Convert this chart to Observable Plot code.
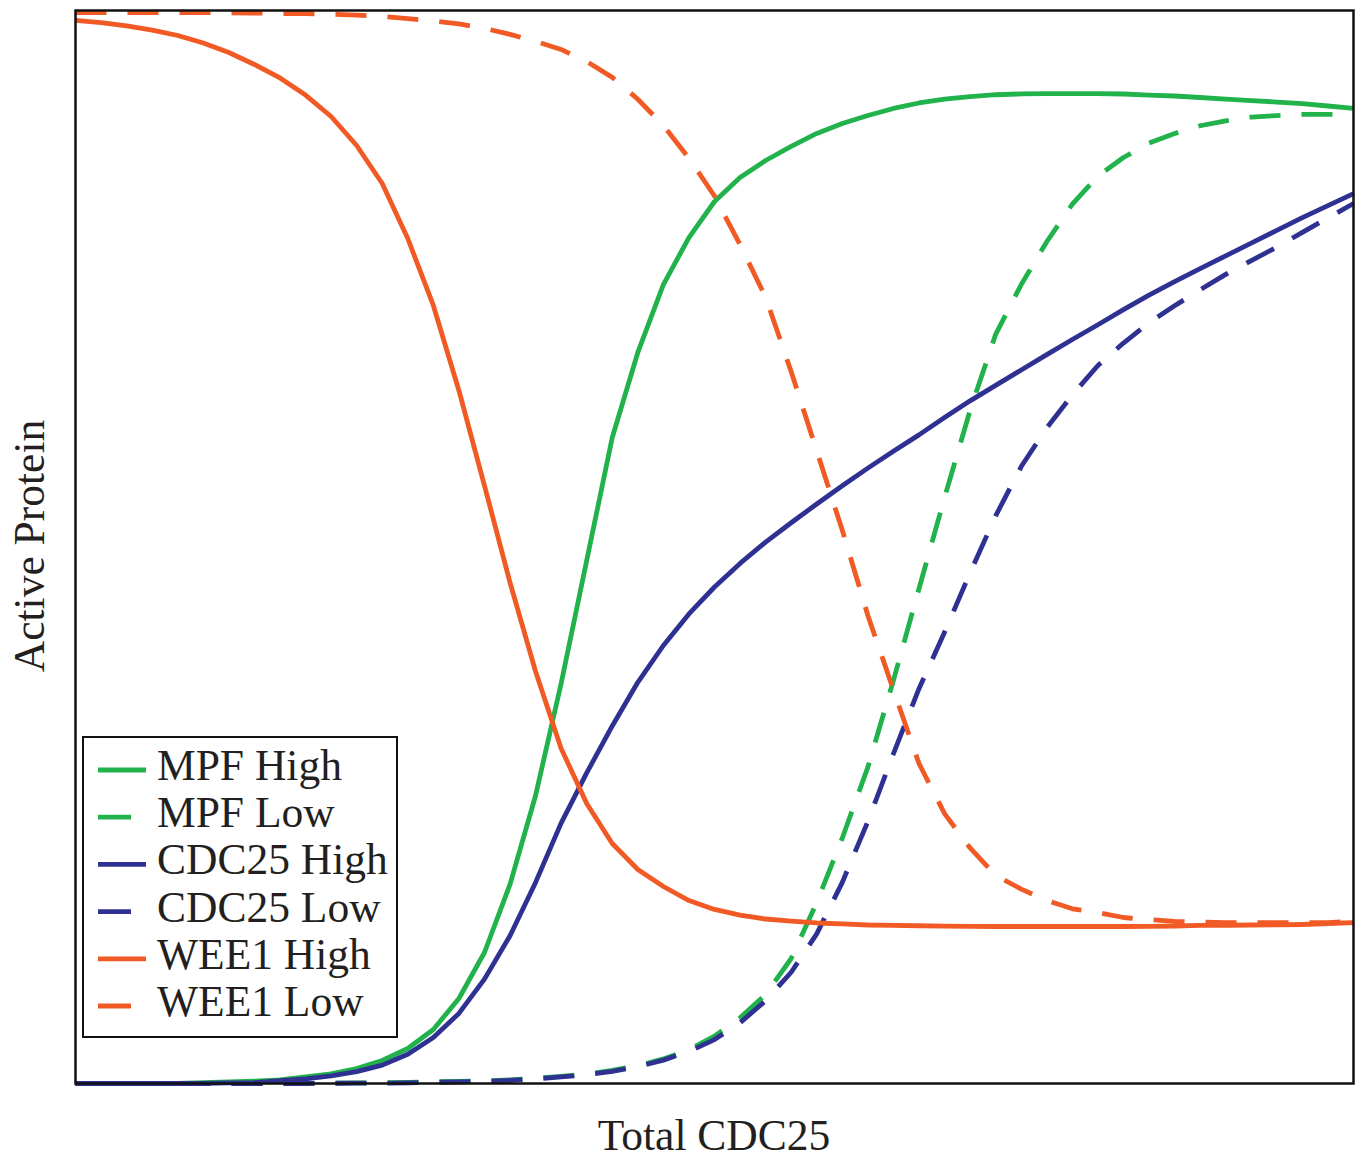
<!DOCTYPE html>
<html>
<head>
<meta charset="utf-8">
<script src="https://cdn.jsdelivr.net/npm/d3@7"></script>
<script src="https://cdn.jsdelivr.net/npm/@observablehq/plot@0.6"></script>
<style>
  html, body { margin: 0; padding: 0; background: #ffffff; }
  #chart { position: relative; width: 1360px; height: 1158px; }
</style>
</head>
<body>
<div id="chart"></div>
<script>
// x positions (Total CDC25, arbitrary units 0–100)
const xs = [0,2,4,6,8,10,12,14,16,18,20,22,24,26,28,30,32,34,36,38,40,42,44,46,48,50,
            52,54,56,58,60,62,64,66,68,70,72,74,76,78,80,82,84,86,88,90,92,94,96,98,100];

// Active protein (0–100) for each series
const mpfHigh = [0,0,0,0,0.02,0.09,0.14,0.23,0.33,0.61,0.89,1.40,2.14,3.26,5.03,7.92,12.21,18.55,26.84,37.28,
                 48.74,60.21,68.13,74.46,78.84,82.20,84.44,86.02,87.33,88.54,89.47,90.21,90.87,91.38,91.75,91.98,
                 92.15,92.23,92.26,92.26,92.26,92.22,92.12,92.03,91.89,91.75,91.61,91.47,91.33,91.10,90.87];
const mpfLow = [0,0,0,0,0,0,0,0,0,0,0.03,0.06,0.07,0.10,0.16,0.20,0.25,0.34,0.48,0.66,
                0.89,1.22,1.65,2.29,3.15,4.41,6.12,8.29,11.65,16.87,22.88,29.48,37.57,46.11,54.61,62.74,
                69.82,74.46,78.45,81.95,84.57,86.30,87.64,88.54,89.26,89.71,90.07,90.21,90.31,90.31,90.31];
const cdcHigh = [0,0,0,0,0,0.02,0.05,0.09,0.26,0.43,0.70,1.11,1.71,2.73,4.28,6.53,9.73,13.77,18.74,24.27,
                 28.95,33.32,37.39,40.82,43.76,46.27,48.47,50.46,52.26,54.01,55.71,57.35,58.92,60.45,62.06,63.62,
                 65.06,66.50,67.93,69.34,70.71,72.12,73.48,74.73,75.94,77.14,78.32,79.51,80.70,81.82,82.94];
const cdcLow = [0,0,0,0,0,0,0,0,0,0,0.02,0.03,0.04,0.06,0.10,0.16,0.20,0.29,0.43,0.61,
                0.82,1.13,1.56,2.18,2.99,4.09,5.66,7.71,10.37,13.95,18.75,24.42,30.73,36.79,42.05,47.60,
                52.90,57.50,61.10,64.17,66.92,69.01,70.90,72.48,73.98,75.41,76.69,77.95,79.32,80.67,82.01];
const wee1High = [99.07,98.88,98.56,98.18,97.67,96.97,96.09,94.97,93.71,92.12,90.12,87.42,83.88,78.75,72.51,64.59,
                  55.73,46.69,38.40,31.22,26.10,22.37,19.94,18.36,17.05,16.22,15.70,15.33,15.14,14.96,14.87,14.77,
                  14.73,14.70,14.67,14.65,14.63,14.63,14.63,14.63,14.63,14.63,14.65,14.68,14.73,14.75,14.77,14.78,
                  14.82,14.91,15.00];
const wee1Low = [99.81,99.81,99.81,99.81,99.81,99.81,99.78,99.76,99.72,99.72,99.66,99.57,99.44,99.25,99.02,98.75,
                 98.34,97.78,97.12,96.37,95.24,93.77,91.73,89.28,86.24,82.71,78.17,73.28,66.34,58.95,51.57,43.62,
                 36.68,29.82,25.15,21.95,19.39,18.12,17.06,16.28,15.94,15.47,15.27,15.10,15.04,15.00,15.00,15.00,
                 15.00,15.00,15.10];

// Series names, colours, dash styles (legend order = draw order)
const seriesNames = ["MPF High","MPF Low","CDC25 High","CDC25 Low","WEE1 High","WEE1 Low"];
const seriesValues = [mpfHigh, mpfLow, cdcHigh, cdcLow, wee1High, wee1Low];
const seriesColors = ["#22b24c","#22b24c","#2e3192","#2e3192","#f15a24","#f15a24"];
const seriesDashed = [false,true,false,true,false,true];

const xLabel = "Total CDC25";
const yLabel = "Active Protein";

const DASH = "31,21";
const LW = 4.8;
const FONT = "'Liberation Serif', 'Times New Roman', serif";
const TEXT = "#231f20";

const lineMarks = seriesValues.map((vals, k) =>
  Plot.line(xs, {
    x: d => d,
    y: (d, i) => vals[i],
    stroke: seriesColors[k],
    strokeWidth: LW,
    strokeDasharray: seriesDashed[k] ? DASH : null,
    strokeLinejoin: "round",
    strokeLinecap: "butt"
  })
);

const chart = Plot.plot({
  width: 1360,
  height: 1158,
  marginLeft: 75,
  marginRight: 7,
  marginTop: 10,
  marginBottom: 75,
  style: { background: "#ffffff", overflow: "visible" },
  x: { domain: [0, 100], axis: null },
  y: { domain: [0, 100], axis: null },
  marks: [
    ...lineMarks,
    Plot.frame({ stroke: "#111", strokeWidth: 2.5 })
  ]
});

document.getElementById("chart").appendChild(chart);

// Axis labels and legend, laid out on the Plot SVG
const svg = d3.select(chart);

svg.append("text")
  .attr("x", 714).attr("y", 1150)
  .attr("text-anchor", "middle")
  .attr("font-family", FONT).attr("font-size", 43.5).attr("fill", TEXT)
  .text(xLabel);

svg.append("text")
  .attr("transform", "translate(44,546) rotate(-90)")
  .attr("text-anchor", "middle")
  .attr("font-family", FONT).attr("font-size", 43.5).attr("fill", TEXT)
  .text(yLabel);

const lg = svg.append("g");
lg.append("rect")
  .attr("x", 83).attr("y", 737).attr("width", 314).attr("height", 300)
  .attr("fill", "#ffffff").attr("stroke", "#111").attr("stroke-width", 2);

seriesNames.forEach((name, k) => {
  const cy = 770 + k * 47.2;
  lg.append("line")
    .attr("x1", 98).attr("x2", seriesDashed[k] ? 131 : 146)
    .attr("y1", cy).attr("y2", cy)
    .attr("stroke", seriesColors[k]).attr("stroke-width", LW);
  lg.append("text")
    .attr("x", 157).attr("y", cy + 10)
    .attr("text-anchor", "start")
    .attr("font-family", FONT).attr("font-size", 43.5).attr("fill", TEXT)
    .text(name);
});
</script>
</body>
</html>
